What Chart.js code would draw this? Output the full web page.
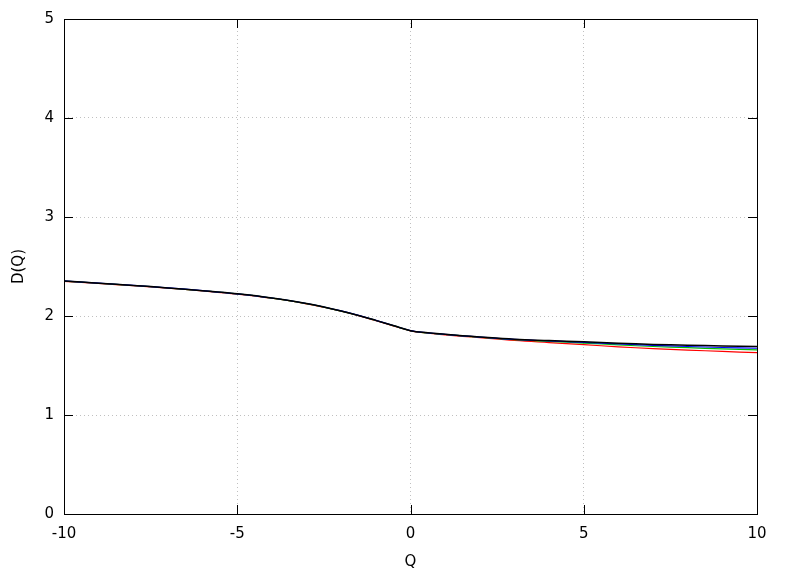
<!DOCTYPE html>
<html>
<head>
<meta charset="utf-8">
<script src="https://cdn.jsdelivr.net/npm/chart.js@4"></script>
<style>
  html, body { margin: 0; padding: 0; background: #fff; }
  #wrap { width: 788px; height: 576px; }
</style>
</head>
<body>
<div id="wrap"><canvas id="dqChart"></canvas></div>
<script>
// Q values (x axis)
const qValues = [-10, -9, -8, -7, -6, -5, -4, -3, -2.5, -2, -1.5, -1, -0.5, 0, 0.5, 1, 1.5, 2, 3, 4, 5, 6, 7, 8, 9, 10];

// D(Q) curves
const dRed   = [2.350, 2.329, 2.306, 2.281, 2.253, 2.221, 2.179, 2.123, 2.088, 2.048, 2.003, 1.953, 1.901, 1.850, 1.826, 1.810, 1.795, 1.781, 1.753, 1.731, 1.710, 1.689, 1.671, 1.656, 1.642, 1.630];
const dGreen = [2.353, 2.331, 2.308, 2.283, 2.255, 2.223, 2.181, 2.125, 2.090, 2.050, 2.005, 1.955, 1.903, 1.851, 1.828, 1.813, 1.799, 1.786, 1.760, 1.743, 1.727, 1.708, 1.692, 1.680, 1.668, 1.657];
const dBlue  = [2.354, 2.332, 2.309, 2.284, 2.256, 2.224, 2.182, 2.126, 2.091, 2.051, 2.006, 1.956, 1.904, 1.852, 1.829, 1.814, 1.800, 1.787, 1.763, 1.748, 1.734, 1.718, 1.704, 1.692, 1.682, 1.674];
const dBlack = [2.354, 2.332, 2.309, 2.284, 2.256, 2.224, 2.182, 2.126, 2.091, 2.051, 2.006, 1.956, 1.904, 1.852, 1.830, 1.815, 1.801, 1.788, 1.766, 1.752, 1.739, 1.726, 1.713, 1.705, 1.698, 1.693];

const xTicks = [-10, -5, 0, 5, 10];
const yTicks = [0, 1, 2, 3, 4, 5];

function toPoints(ys) {
    return qValues.map((q, i) => ({ x: q, y: ys[i] }));
}

function curve(ys, color, width) {
    return {
        data: toPoints(ys),
        borderColor: color,
        borderWidth: width,
        pointRadius: 0,
        fill: false,
        tension: 0.4
    };
}

// gnuplot style frame with inward ticks on all four sides
const framePlugin = {
    id: 'frame',
    afterDatasetsDraw(chart) {
        const { ctx, chartArea: a, scales } = chart;
        const len = 9;
        ctx.save();
        ctx.strokeStyle = '#000';
        ctx.lineWidth = 1;
        ctx.beginPath();
        xTicks.forEach(v => {
            const px = Math.round(scales.x.getPixelForValue(v)) + 0.5;
            ctx.moveTo(px, a.bottom); ctx.lineTo(px, a.bottom - len);
            ctx.moveTo(px, a.top); ctx.lineTo(px, a.top + len);
        });
        yTicks.forEach(v => {
            const py = Math.round(scales.y.getPixelForValue(v)) + 0.5;
            ctx.moveTo(a.left, py); ctx.lineTo(a.left + len, py);
            ctx.moveTo(a.right, py); ctx.lineTo(a.right - len, py);
        });
        ctx.stroke();
        ctx.strokeRect(Math.round(a.left) + 0.5, Math.round(a.top) + 0.5,
            Math.round(a.right - a.left), Math.round(a.bottom - a.top));
        ctx.restore();
    }
};

const font = { family: 'DejaVu Sans', size: 15 };
const gridStyle = {
    color: 'rgba(150, 150, 150, 0.6)',
    lineWidth: 1,
    drawTicks: false
};

const ctx = document.getElementById('dqChart').getContext('2d');
const dqChart = new Chart(ctx, {
    type: 'line',
    data: {
        datasets: [
            curve(dBlack, '#000000', 1.5),
            curve(dBlue, '#0000ff', 1.2),
            curve(dGreen, '#00c000', 1.2),
            curve(dRed, '#ff0000', 1.2)
        ]
    },
    options: {
        responsive: true,
        maintainAspectRatio: false,
        animation: false,
        layout: { padding: { top: 19, right: 31, left: 0, bottom: 0 } },
        plugins: {
            legend: { display: false },
            tooltip: { enabled: false }
        },
        scales: {
            x: {
                type: 'linear',
                min: -10,
                max: 10,
                afterBuildTicks: s => { s.ticks = xTicks.map(v => ({ value: v })); },
                afterFit: s => { s.height = 62; },
                grid: gridStyle,
                border: { display: false, dash: [1, 3] },
                ticks: { font: font, color: '#000', padding: 11, maxRotation: 0 },
                title: { display: true, text: 'Q', font: font, color: '#000', padding: { top: 0, bottom: 5 } }
            },
            y: {
                min: 0,
                max: 5,
                afterBuildTicks: s => { s.ticks = yTicks.map(v => ({ value: v })); },
                afterFit: s => { s.width = 64; },
                grid: gridStyle,
                border: { display: false, dash: [1, 3] },
                ticks: { font: font, color: '#000', padding: 10 },
                title: { display: true, text: 'D(Q)', font: font, color: '#000', padding: { top: 10, bottom: 0 } }
            }
        }
    },
    plugins: [framePlugin]
});
</script>
</body>
</html>
